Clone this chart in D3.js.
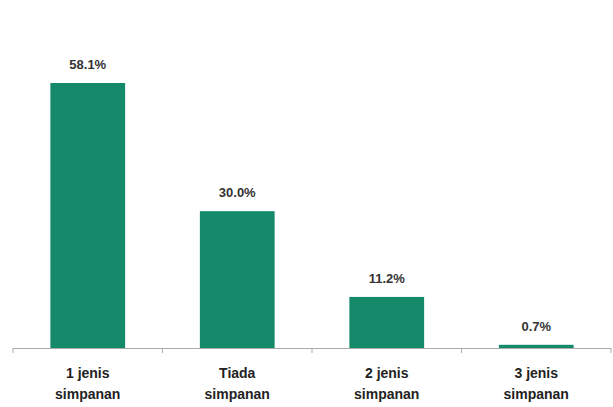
<!DOCTYPE html>
<html>
<head>
<meta charset="utf-8">
<script src="https://d3js.org/d3.v7.min.js"></script>
<style>
    body { margin: 0; background: #fff; }
    .val { font: bold 13px "Liberation Sans", Arial, sans-serif; fill: #333; text-anchor: middle; }
    .cat { font: bold 14px "Liberation Sans", Arial, sans-serif; fill: #222; text-anchor: middle; }
</style>
</head>
<body>
<svg width="613" height="407"></svg>
<script>
    var categories = ["1 jenis|simpanan", "Tiada|simpanan", "2 jenis|simpanan", "3 jenis|simpanan"];
    var values = [58.1, 30.0, 11.2, 0.7];
    var valueLabels = ["58.1%", "30.0%", "11.2%", "0.7%"];

    var svg = d3.select("svg"),
        left = 13, right = 611, baseY = 348;

    var x = d3.scaleBand().domain(categories).range([left, right]).paddingInner(0.5).paddingOuter(0.25);
    var y = d3.scaleLinear().domain([0, 58.1]).range([baseY, 83]);

    // bars
    svg.selectAll(".bar")
        .data(values)
        .enter().append("rect")
        .attr("x", function (d, i) { return x(categories[i]); })
        .attr("y", function (d) { return y(d); })
        .attr("width", x.bandwidth())
        .attr("height", function (d) { return baseY - y(d); })
        .attr("fill", "#148a6a");

    // value labels
    svg.selectAll(".val")
        .data(values)
        .enter().append("text")
        .attr("class", "val")
        .attr("x", function (d, i) { return x(categories[i]) + x.bandwidth() / 2; })
        .attr("y", function (d) { return y(d) - 14; })
        .text(function (d, i) { return valueLabels[i]; });

    // axis line + ticks between categories
    svg.append("line")
        .attr("x1", left).attr("x2", right)
        .attr("y1", baseY + 0.5).attr("y2", baseY + 0.5)
        .attr("stroke", "#aaa").attr("stroke-width", 1.2);

    var bounds = [left].concat(categories.slice(1).map(function (c) { return x(c) - (x.step() - x.bandwidth()) / 2; })).concat([right]);
    svg.selectAll(".tick")
        .data(bounds)
        .enter().append("line")
        .attr("x1", function (d) { return d; }).attr("x2", function (d) { return d; })
        .attr("y1", baseY).attr("y2", baseY + 5)
        .attr("stroke", "#aaa");

    // category labels
    var cat = svg.selectAll(".cat")
        .data(categories)
        .enter().append("text")
        .attr("class", "cat")
        .attr("y", 378);
    cat.append("tspan")
        .attr("x", function (c) { return x(c) + x.bandwidth() / 2; })
        .text(function (c) { return c.split("|")[0]; });
    cat.append("tspan")
        .attr("x", function (c) { return x(c) + x.bandwidth() / 2; })
        .attr("dy", 21)
        .text(function (c) { return c.split("|")[1]; });
</script>
</body>
</html>
